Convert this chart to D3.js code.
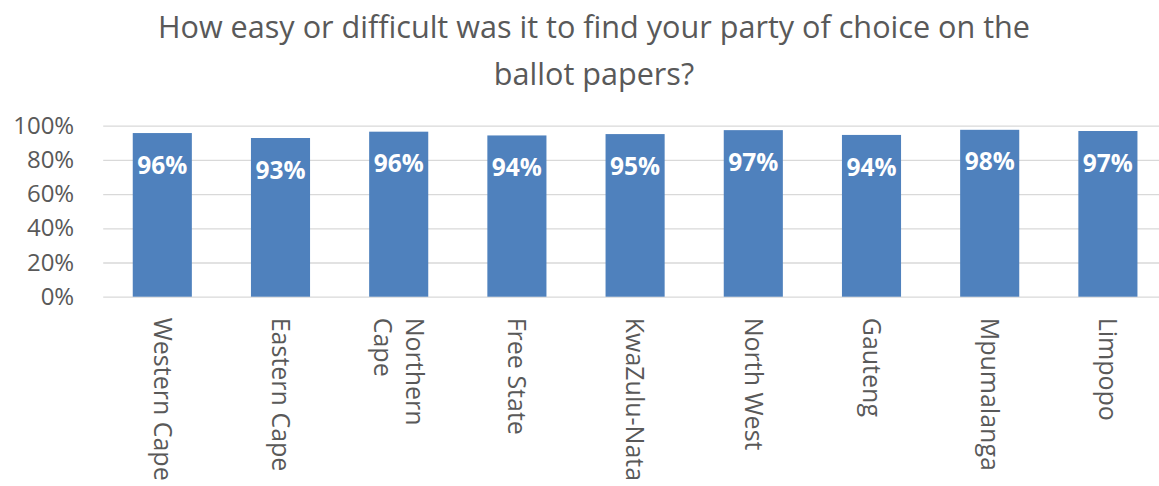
<!DOCTYPE html>
<html>
<head>
<meta charset="utf-8">
<script src="https://cdn.jsdelivr.net/npm/d3@7"></script>
<style>
  html, body { margin: 0; padding: 0; background: #ffffff; overflow: hidden; }
  svg { display: block; }
</style>
</head>
<body>
<script>
// ---- data ----
const titleLines = ["How easy or difficult was it to find your party of choice on the", "ballot papers?"];
const categories = ["Western Cape", "Eastern Cape", "Northern\nCape", "Free State", "KwaZulu-Nata", "North West", "Gauteng", "Mpumalanga", "Limpopo"];
const values = [0.957, 0.928, 0.965, 0.943, 0.951, 0.974, 0.946, 0.976, 0.969];
const valueLabels = ["96%", "93%", "96%", "94%", "95%", "97%", "94%", "98%", "97%"];
const yTicks = [0, 0.2, 0.4, 0.6, 0.8, 1.0];
const yTickLabels = ["0%", "20%", "40%", "60%", "80%", "100%"];

// ---- layout ----
const W = 1159, H = 486;
const plot = { left: 103.2, right: 1167, top: 125.7, bottom: 296.7 };
const font = "'Open Sans', sans-serif";
const textColor = "#595959";
const barColor = "#4F81BD";
const gridColor = "#D9D9D9";

const svg = d3.select("body").append("svg").attr("width", W).attr("height", H);

const x = d3.scaleBand().domain(categories).range([plot.left, plot.right]).paddingInner(0.5).paddingOuter(0.25);
const y = d3.scaleLinear().domain([0, 1]).range([plot.bottom, plot.top]);

// title
svg.append("g").selectAll("text").data(titleLines).join("text")
  .attr("x", 594)
  .attr("y", (d, i) => 38 + i * 46.5)
  .attr("text-anchor", "middle")
  .attr("font-family", font)
  .attr("font-size", 30.6)
  .attr("fill", textColor)
  .text(d => d);

// grid
const yAxis = d3.axisLeft(y).tickValues(yTicks).tickFormat((d, i) => yTickLabels[i]).tickSize(-(plot.right - plot.left)).tickPadding(29);
const gy = svg.append("g").attr("transform", `translate(${plot.left},0)`).call(yAxis);
gy.select(".domain").remove();
gy.selectAll(".tick line").attr("stroke", gridColor).attr("stroke-width", 1.3);
gy.selectAll(".tick text").attr("font-family", font).attr("font-size", 24).attr("fill", textColor);

// bars
svg.append("g").selectAll("rect").data(values).join("rect")
  .attr("x", (d, i) => x(categories[i]))
  .attr("y", d => y(d))
  .attr("width", x.bandwidth())
  .attr("height", d => y(0) - y(d))
  .attr("fill", barColor);

// value labels
svg.append("g").selectAll("text").data(values).join("text")
  .attr("x", (d, i) => x(categories[i]) + x.bandwidth() / 2)
  .attr("y", d => y(d) + 32)
  .attr("dy", "0.35em")
  .attr("text-anchor", "middle")
  .attr("font-family", font)
  .attr("font-weight", "bold")
  .attr("font-size", 24.5)
  .attr("fill", "#ffffff")
  .text((d, i) => valueLabels[i]);

// x axis labels (rotated 90deg)
const xAxis = d3.axisBottom(x).tickSize(0).tickFormat("");
const gx = svg.append("g").attr("transform", `translate(0,${plot.bottom})`).call(xAxis);
gx.select(".domain").remove();
gx.selectAll(".tick").each(function (d) {
  const lines = d.split("\n");
  const lh = 1.25;
  const t = d3.select(this).append("text")
    .attr("transform", "translate(0,21) rotate(90)")
    .attr("text-anchor", "start")
    .attr("font-family", font)
    .attr("font-size", 25)
    .attr("fill", textColor);
  lines.forEach((ln, k) => {
    t.append("tspan")
      .attr("x", 0)
      .attr("dy", k === 0 ? (0.35 - (lines.length - 1) * lh / 2) + "em" : lh + "em")
      .text(ln);
  });
});
</script>
</body>
</html>
